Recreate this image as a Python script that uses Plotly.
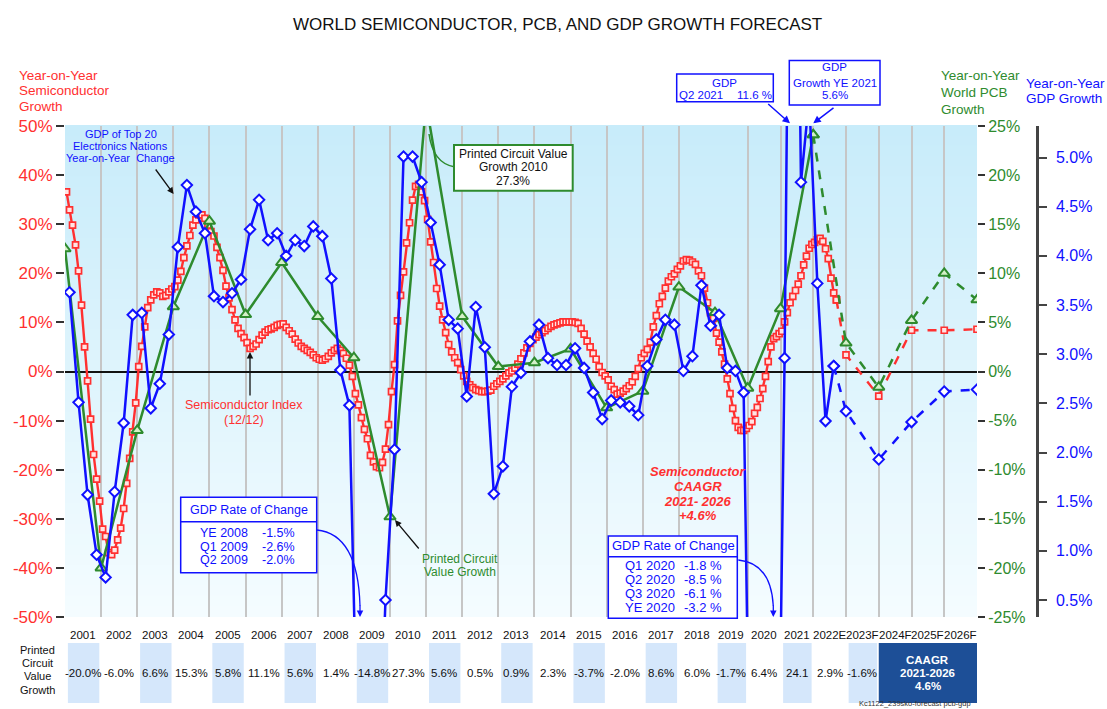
import plotly.graph_objects as go

# ---------------- DATA ----------------
# Semiconductor index, year-on-year growth (12/12), monthly from Jan 2001 to Sep 2022 (%)
semi_start_year = 2001
semi_growth = [
    36.6, 32.9, 29.8, 25.8, 20.5, 13.5, 5.0, -1.9, -9.7, -16.9, -21.9, -26.4,        # 2001
    -32.1, -33.6, -36.9, -37.3, -36.4, -34.3, -31.9, -27.9, -22.8, -17.7, -12.3, -6.4,  # 2002
    1.0, 5.1, 9.1, 13.0, 14.6, 15.6, 16.2, 16.0, 15.3, 15.5, 16.2, 16.8,             # 2003
    17.3, 18.6, 20.4, 23.2, 25.6, 27.7, 29.8, 30.9, 31.9, 31.9, 31.2, 29.8,          # 2004
    28.5, 27.6, 25.3, 23.2, 20.6, 17.4, 15.0, 12.6, 10.5, 8.8, 7.7, 6.9,             # 2005
    5.9, 4.7, 5.1, 5.6, 6.5, 7.4, 8.0, 8.5, 8.7, 9.0, 9.4, 9.6,                      # 2006
    9.7, 9.0, 8.3, 7.6, 6.6, 5.8, 5.1, 4.7, 4.3, 3.9, 3.4, 2.8,                      # 2007
    2.5, 2.3, 2.6, 3.1, 3.8, 4.3, 4.7, 4.3, 3.7, 2.7, 1.3, -1.0,                     # 2008
    -4.5, -6.8, -9.4, -11.8, -13.7, -17.1, -18.4, -19.4, -19.6, -18.5, -15.8, -10.8,  # 2009
    -4.1, 1.4, 10.3, 15.5, 20.3, 26.2, 30.3, 34.9, 37.7, 38.1, 36.6, 34.8,           # 2010
    31.0, 26.4, 22.2, 16.9, 13.3, 10.5, 7.9, 5.5, 4.0, 2.8, 1.8, 0.4,                # 2011
    -0.9, -2.0, -2.7, -3.3, -3.7, -3.9, -4.1, -4.1, -4.0, -3.8, -3.0, -2.5,          # 2012
    -2.0, -1.5, -0.9, -0.3, 0.1, 0.7, 1.5, 2.6, 3.8, 4.8, 5.7, 6.5,                  # 2013
    7.0, 7.5, 7.9, 8.3, 8.8, 9.2, 9.5, 9.7, 9.9, 10.1, 10.1, 10.1,                   # 2014
    10.1, 10.0, 9.8, 8.8, 7.6, 6.2, 5.0, 3.7, 2.5, 1.0, -0.2, -0.9,                  # 2015
    -1.7, -3.0, -3.7, -4.6, -4.4, -4.0, -3.5, -2.9, -2.1, -1.0, 0.6, 2.8,            # 2016
    3.7, 4.5, 6.0, 9.1, 11.4, 13.8, 15.3, 17.0, 18.4, 19.3, 19.9, 20.8,              # 2017
    21.5, 22.5, 22.8, 22.7, 22.3, 21.8, 20.5, 19.5, 17.0, 14.0, 12.0, 10.8,          # 2018
    7.8, 6.0, 4.0, 1.5, -1.5, -4.5, -7.5, -10.0, -11.4, -12.0, -12.0, -11.6,         # 2019
    -11.0, -10.2, -8.5, -7.3, -5.5, -3.5, -1.0, 2.0, 5.0, 6.7, 7.1, 7.7,             # 2020
    8.2, 10.1, 12.0, 14.0, 15.3, 16.5, 17.8, 19.5, 21.7, 23.5, 25.1, 25.9,           # 2021
    26.3, 26.8, 27.1, 26.5, 25.0, 23.0, 19.0, 16.0, 14.6,                            # 2022 (Jan-Sep)
]

# GDP of top 20 electronics nations, year-on-year change, quarterly from Q1 2001 (%)
gdp_start_year = 2001
gdp_growth = [
    3.63, 2.51, 1.57, 0.96, 0.73, 1.60, 2.30, 3.40, 3.42, 2.45, 2.70, 3.20,
    4.09, 4.72, 4.45, 4.23, 3.59, 3.53, 3.62, 3.76, 4.27, 4.57, 4.16, 4.23,
    4.00, 4.16, 4.10, 4.30, 4.20, 3.77, 2.84, 2.48, -1.5, -2.6, -2.0, 0.50,
    2.03, 5.01, 5.01, 4.75, 4.34, 3.91, 3.35, 3.26, 2.57, 3.48, 3.07, 1.58,
    1.86, 2.67, 2.81, 3.13, 3.30, 2.96, 2.89, 2.89, 3.06, 2.86, 2.61, 2.34,
    2.53, 2.51, 2.47, 2.38, 2.88, 3.15, 3.35, 3.30, 2.83, 2.98, 3.70, 3.29,
    3.40, 2.86, 2.83, 2.61, -1.8, -8.5, -6.1, -3.2, 2.96, 11.6, 4.75, 5.6,
    3.72, 2.32, 2.88,
]

# World PCB value growth, annual (plotted at year end) (%)
pcb_years = list(range(2000, 2022))
pcb_growth = [12.5, -20.0, -6.0, 6.6, 15.3, 5.8, 11.1, 5.6, 1.4, -14.8, 27.3,
              5.6, 0.5, 0.9, 2.3, -3.7, -2.0, 8.6, 6.0, -1.7, 6.4, 24.1]

# Forecasts (plotted at year end)
forecast_years = [2022, 2023, 2024, 2025, 2026]
semi_forecast = [3.4, -5.0, 8.4, 8.4, 8.6]
pcb_forecast = [2.9, -1.6, 5.2, 10.0, 7.3]
gdp_forecast = [2.42, 1.93, 2.31, 2.62, 2.64]

# Bottom table
table_years = ["2001", "2002", "2003", "2004", "2005", "2006", "2007", "2008", "2009",
               "2010", "2011", "2012", "2013", "2014", "2015", "2016", "2017", "2018",
               "2019", "2020", "2021", "2022E", "2023F", "2024F", "2025F", "2026F"]
table_values = ["-20.0%", "-6.0%", "6.6%", "15.3%", "5.8%", "11.1%", "5.6%", "1.4%",
                "-14.8%", "27.3%", "5.6%", "0.5%", "0.9%", "2.3%", "-3.7%", "-2.0%",
                "8.6%", "6.0%", "-1.7%", "6.4%", "24.1", "2.9%", "-1.6%"]

semi_ticks = [-50, -40, -30, -20, -10, 0, 10, 20, 30, 40, 50]
pcb_ticks = [-25, -20, -15, -10, -5, 0, 5, 10, 15, 20, 25]
gdp_ticks = [0.5, 1.0, 1.5, 2.0, 2.5, 3.0, 3.5, 4.0, 4.5, 5.0]

# ---------------- STYLE / GEOMETRY ----------------
FONT = "Liberation Sans, Arial, Helvetica, sans-serif"
RED = "#ff3030"
GREEN = "#2e8b2e"
BLUE = "#1010ff"

W, H = 1107, 709
ML, MR, MT, MB = 65, 70, 126, 92
PW = W - ML - MR
PH = H - MT - MB
SPLIT = 2019.0
D1 = (715 - ML) / PW
D2 = (977 - ML) / PW


def PX(x):
    return (x - ML) / PW


def PY(y):
    return (H - MB - y) / PH


semi_x = [semi_start_year + (i + 0.5) / 12 for i in range(len(semi_growth))]
gdp_x = [gdp_start_year + (i + 0.5) / 4 for i in range(len(gdp_growth))]
pcb_x = [y + 1.0 for y in pcb_years]
fc_x = [y + 1.0 for y in forecast_years]


def split(xs, ys):
    L = [i for i, x in enumerate(xs) if x <= SPLIT]
    R = [i for i, x in enumerate(xs) if x >= SPLIT]
    if L and L[-1] + 1 < len(xs):
        L.append(L[-1] + 1)
    if R and R[0] > 0:
        R.insert(0, R[0] - 1)
    return ([xs[i] for i in L], [ys[i] for i in L]), ([xs[i] for i in R], [ys[i] for i in R])


fig = go.Figure()


def add_series(xs, ys, yaxis, color, symbol, msize, mfill, mline, lw, dash="solid"):
    (lx, ly), (rx, ry) = split(xs, ys)
    for xa, X, Y in (("x", lx, ly), ("x2", rx, ry)):
        if not X:
            continue
        fig.add_trace(go.Scatter(
            x=X, y=Y, xaxis=xa, yaxis=yaxis, mode="lines+markers",
            line=dict(color=color, width=lw, dash=dash),
            marker=dict(symbol=symbol, size=msize, color=mfill,
                        line=dict(color=color, width=mline)),
            showlegend=False, hoverinfo="skip"))


# PCB (green)
add_series(pcb_x, pcb_growth, "y2", GREEN, "triangle-up", 10, "#d4f0c8", 2, 2.5)
add_series([pcb_x[-1]] + fc_x, [pcb_growth[-1]] + pcb_forecast, "y2", GREEN,
           "triangle-up", 10, "#d4f0c8", 2, 2.5, dash="dash")
# Semiconductor (red)
add_series(semi_x, semi_growth, "y", RED, "square", 6, "#ffe4e4", 1.7, 2.4)
add_series([semi_x[-1]] + fc_x, [semi_growth[-1]] + semi_forecast, "y", RED,
           "square", 6, "#ffe4e4", 1.7, 2.4, dash="dash")
# GDP (blue)
add_series(gdp_x, gdp_growth, "y3", BLUE, "diamond", 8, "white", 2, 2.5)
add_series([gdp_x[-1]] + fc_x, [gdp_growth[-1]] + gdp_forecast, "y3", BLUE,
           "diamond", 8, "white", 2, 2.5, dash="dash")

shapes = []
annotations = []

# background gradient of plot area
NB = 48
c_top = (200, 236, 250)
c_bot = (244, 252, 255)
for k in range(NB):
    t = k / (NB - 1)
    c = tuple(int(round(c_top[j] + (c_bot[j] - c_top[j]) * t)) for j in range(3))
    shapes.append(dict(type="rect", xref="paper", yref="paper", x0=0, x1=D2,
                       y0=1 - (k + 1) / NB, y1=1 - k / NB + 0.002,
                       fillcolor="rgb(%d,%d,%d)" % c, line=dict(width=0), layer="below"))


def ptxt(text, x, y, size, color, xanchor="center", bold=False, italic=False):
    t = text
    if bold:
        t = "<b>" + t + "</b>"
    if italic:
        t = "<i>" + t + "</i>"
    annotations.append(dict(text=t, x=PX(x), y=PY(y), xref="paper", yref="paper",
                            showarrow=False, xanchor=xanchor, yanchor="middle",
                            font=dict(size=size, color=color, family=FONT)))


def parrow(xt, yt, xs, ys, color, width=1.3, head=2, size=1.0):
    annotations.append(dict(text="", x=PX(xt), y=PY(yt), xref="paper", yref="paper",
                            ax=xs - xt, ay=ys - yt, axref="pixel", ayref="pixel",
                            showarrow=True, arrowhead=head, arrowsize=size,
                            arrowwidth=width, arrowcolor=color, standoff=0))


def prect(x0, y0, x1, y1, color, width=1.5, fill="white"):
    shapes.append(dict(type="rect", xref="paper", yref="paper", x0=PX(x0), x1=PX(x1),
                       y0=PY(y1), y1=PY(y0), fillcolor=fill,
                       line=dict(color=color, width=width), layer="above"))


def pline(x0, y0, x1, y1, color, width=1.5):
    shapes.append(dict(type="line", xref="paper", yref="paper", x0=PX(x0), x1=PX(x1),
                       y0=PY(y0), y1=PY(y1), line=dict(color=color, width=width)))


def pcurve(x0, y0, cx, cy, x1, y1, color, width=1.3):
    path = "M %.5f,%.5f Q %.5f,%.5f %.5f,%.5f" % (PX(x0), PY(y0), PX(cx), PY(cy), PX(x1), PY(y1))
    shapes.append(dict(type="path", xref="paper", yref="paper", path=path,
                       line=dict(color=color, width=width)))


# title
ptxt("WORLD SEMICONDUCTOR, PCB, AND GDP GROWTH FORECAST", 557, 25, 17, "#111")

# axis titles
for i, s in enumerate(["Year-on-Year", "Semiconductor", "Growth"]):
    ptxt(s, 17, 75 + 15.5 * i, 13.5, RED, xanchor="left")
for i, s in enumerate(["Year-on-Year", "World PCB", "Growth"]):
    ptxt(s, 939, 76 + 16.6 * i, 13.5, GREEN, xanchor="left")
for i, s in enumerate(["Year-on-Year", "GDP Growth"]):
    ptxt(s, 1024, 83.5 + 15 * i, 13.5, BLUE, xanchor="left")

# GDP of top 20 label
for i, s in enumerate(["GDP of Top 20", "Electronics Nations", "Year-on-Year  Change"]):
    ptxt(s, 120.7, 134 + 12.2 * i, 11, BLUE)
parrow(173.6, 194, 154.6, 168, "#111")

# Printed circuit value growth 2010 box
prect(454, 145, 572.7, 190.7, GREEN, width=2)
for i, s in enumerate(["Printed Circuit Value", "Growth 2010", "27.3%"]):
    ptxt(s, 513.3, 154 + 13.3 * i, 12, "#111")
pcurve(454, 166.7, 433, 163, 429, 134, GREEN, 1.5)

# Semiconductor index label
ptxt("Semiconductor Index", 244, 405, 12.5, RED)
ptxt("(12/12)", 244, 420, 12.5, RED)
parrow(250, 352, 250, 397, "#111")

# Printed circuit value growth label
ptxt("Printed Circuit", 459.5, 559.3, 12, GREEN)
ptxt("Value Growth", 459.5, 571.7, 12, GREEN)
parrow(395, 520, 420, 550, "#111")

# GDP rate of change box (2008/2009)
prect(180.7, 497.3, 316.7, 572.7, BLUE)
pline(180.7, 521.7, 316.7, 521.7, BLUE)
ptxt("GDP Rate of Change", 248.7, 510, 12.5, BLUE)
for i, (a, b) in enumerate([("YE 2008", "-1.5%"), ("Q1 2009", "-2.6%"), ("Q2 2009", "-2.0%")]):
    ptxt(a, 224, 533 + 13.6 * i, 12.5, BLUE)
    ptxt(b, 278, 533 + 13.6 * i, 12.5, BLUE)
pcurve(316.7, 530, 358, 534, 360, 606, BLUE, 1.3)
parrow(360, 617, 360, 604, BLUE, width=1.3)

# GDP rate of change box (2020)
prect(608.3, 536, 737.3, 618.3, BLUE)
pline(608.3, 556.7, 737.3, 556.7, BLUE)
ptxt("GDP Rate of Change", 673, 545.7, 13, BLUE)
for i, (a, b) in enumerate([("Q1 2020", "-1.8 %"), ("Q2 2020", "-8.5 %"),
                            ("Q3 2020", "-6.1 %"), ("YE 2020", "-3.2 %")]):
    ptxt(a, 650, 565 + 14.1 * i, 13, BLUE)
    ptxt(b, 703, 565 + 14.1 * i, 13, BLUE)
pcurve(738.3, 560, 771, 563, 773.3, 606, BLUE, 1.3)
parrow(773.3, 617, 773.3, 604, BLUE, width=1.3)

# Semiconductor CAAGR
for i, s in enumerate(["Semiconductor", "CAAGR", "2021- 2026", "+4.6%"]):
    ptxt(s, 698, 471.7 + 14.7 * i, 13, RED, bold=True, italic=True)

# GDP top boxes
prect(676.7, 74, 773.3, 101.7, BLUE)
ptxt("GDP", 724.3, 83, 11.5, BLUE)
ptxt("Q2 2021", 700.5, 95, 11.5, BLUE)
ptxt("11.6 %", 754, 95, 11.5, BLUE)
parrow(790, 123.3, 766.7, 102.7, BLUE, width=1.5)

prect(789.3, 60.5, 880, 105, BLUE)
ptxt("GDP", 834.7, 67.5, 11.5, BLUE)
ptxt("Growth YE 2021", 834.7, 82.5, 11.5, BLUE)
ptxt("5.6%", 834.7, 95.5, 11.5, BLUE)
parrow(813.3, 123.3, 835, 106.7, BLUE, width=1.5)

# ---------------- bottom table ----------------
cell_top = PY(643)
cell_bot = PY(703)
for i, lab in enumerate(table_years):
    yr = 2001 + i
    xr = "x" if yr < SPLIT else "x2"
    if i < len(table_values) and i % 2 == 0:
        shapes.append(dict(type="rect", xref=xr, yref="paper", x0=yr + 0.08, x1=yr + 0.95,
                           y0=cell_bot, y1=cell_top, fillcolor="#d5e7fb",
                           line=dict(width=0), layer="above"))
    annotations.append(dict(text=lab, x=yr + 0.5, y=PY(635), xref=xr, yref="paper",
                            showarrow=False, xanchor="center", yanchor="middle",
                            font=dict(size=11.5, color="#111", family=FONT)))
    if i < len(table_values):
        annotations.append(dict(text=table_values[i], x=yr + 0.5, y=PY(673), xref=xr,
                                yref="paper", showarrow=False, xanchor="center",
                                yanchor="middle",
                                font=dict(size=11.5, color="#111", family=FONT)))

shapes.append(dict(type="rect", xref="x2", yref="paper", x0=2024.0, x1=2027.0,
                   y0=cell_bot, y1=cell_top, fillcolor="#1d4f97", line=dict(width=0),
                   layer="above"))
for i, s in enumerate(["CAAGR", "2021-2026", "4.6%"]):
    annotations.append(dict(text="<b>" + s + "</b>", x=2025.5, y=PY(659.5 + 13.3 * i),
                            xref="x2", yref="paper", showarrow=False, xanchor="center",
                            yanchor="middle",
                            font=dict(size=11.5, color="white", family=FONT)))

for i, s in enumerate(["Printed", "Circuit", "Value", "Growth"]):
    ptxt(s, 37, 650 + 13.2 * i, 11, "#111")

ptxt("Kc1122_239sko-forecast pcb-gdp", 915, 703.5, 7.5, "#333")

# ---------------- layout ----------------
xcommon = dict(showticklabels=False, ticks="", showgrid=True, gridcolor="#c6c6c6",
               gridwidth=1.5, zeroline=False, showline=False, anchor="y", fixedrange=True)

fig.update_layout(
    width=W, height=H,
    margin=dict(l=ML, r=MR, t=MT, b=MB, pad=0),
    paper_bgcolor="white",
    plot_bgcolor="rgba(0,0,0,0)",
    showlegend=False,
    font=dict(family=FONT),
    xaxis=dict(domain=[0, D1], range=[2001, 2019], tickvals=list(range(2002, 2020)), **xcommon),
    xaxis2=dict(domain=[D1, D2], range=[2019, 2027], tickvals=list(range(2019, 2027)), **xcommon),
    yaxis=dict(domain=[0, 1], range=[-50, 50], tickvals=semi_ticks,
               ticktext=["%d%%" % v for v in semi_ticks], ticks="outside", ticklen=8,
               tickwidth=2, tickcolor="#333", tickfont=dict(size=17, color=RED),
               showgrid=False, zeroline=True, zerolinecolor="#111", zerolinewidth=1.5,
               showline=False, anchor="x", fixedrange=True),
    yaxis2=dict(overlaying="y", side="right", anchor="x2", range=[-25, 25],
                tickvals=pcb_ticks, ticktext=["%d%%" % v for v in pcb_ticks],
                ticks="outside", ticklen=7, tickwidth=2, tickcolor="#333",
                tickfont=dict(size=16, color=GREEN), showgrid=False, zeroline=False,
                showline=False, fixedrange=True),
    yaxis3=dict(overlaying="y", side="right", anchor="free", position=1.0,
                range=[0.327, 5.321], tickvals=gdp_ticks,
                ticktext=["%.1f%%" % v for v in gdp_ticks], ticks="outside", ticklen=8,
                tickwidth=2, tickcolor="#444", showline=True, linecolor="#444",
                linewidth=2.5, tickfont=dict(size=16, color=BLUE), showgrid=False,
                zeroline=False, ticklabelstandoff=6, fixedrange=True),
    shapes=shapes,
    annotations=annotations,
)

fig.write_html("out.html", config={"displayModeBar": False},
               post_script="document.body.style.margin='0px';document.body.style.overflow='hidden';")
